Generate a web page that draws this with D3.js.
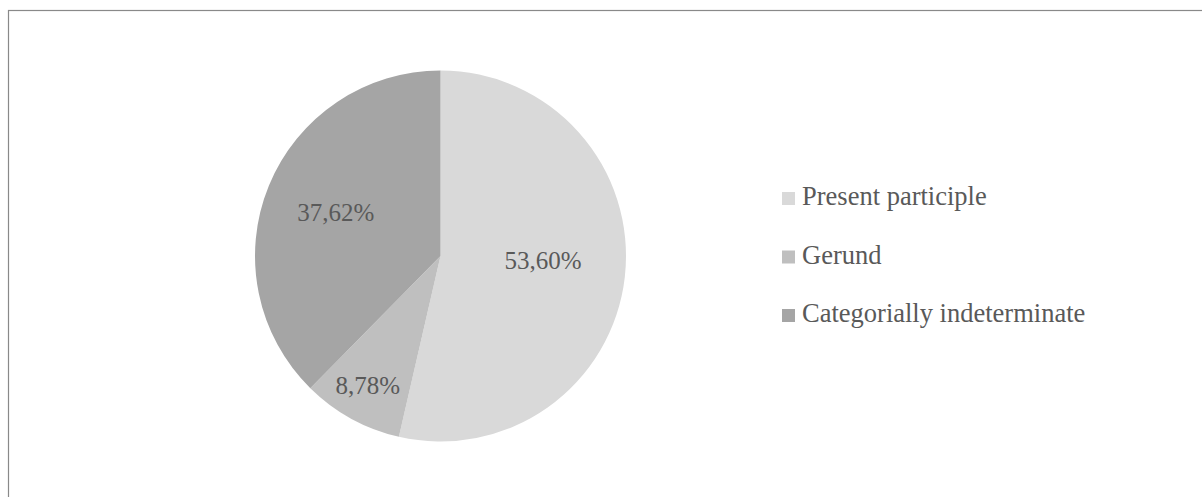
<!DOCTYPE html>
<html>
<head>
<meta charset="utf-8">
<script src="https://cdn.jsdelivr.net/npm/d3@7"></script>
<style>
  html, body { margin: 0; padding: 0; background: #fff; overflow: hidden; }
  svg { display: block; }
</style>
</head>
<body>
<svg id="chart" width="1202" height="497"></svg>
<script>
const categories = ["Present participle", "Gerund", "Categorially indeterminate"];
const values = [53.60, 8.78, 37.62];
const labels = ["53,60%", "8,78%", "37,62%"];
const colors = ["#d9d9d9", "#bfbfbf", "#a5a5a5"];

const svg = d3.select("#chart");
const font = "'Liberation Serif', 'Times New Roman', serif";
const textColor = "#595959";

// chart frame (only top/left edges visible in the window)
svg.append("rect")
  .attr("x", 8.5).attr("y", 10.5)
  .attr("width", 1300).attr("height", 600)
  .attr("fill", "#fff")
  .attr("stroke", "#898989").attr("stroke-width", 1.2);

const cx = 440.5, cy = 256, R = 185.5;
const data = categories.map((c, i) => ({ name: c, value: values[i], label: labels[i], color: colors[i] }));

const pie = d3.pie().value(d => d.value).sort(null);
const arcs = pie(data);
const arc = d3.arc().innerRadius(0).outerRadius(R);

const g = svg.append("g").attr("transform", `translate(${cx},${cy})`);
g.selectAll("path.slice")
  .data(arcs)
  .join("path")
  .attr("class", "slice")
  .attr("d", arc)
  .attr("fill", d => d.data.color);

// label placement (Excel best-fit): radius fraction and position within slice
const labelFrac = [0.553, 0.80, 0.61];
const labelAt = [0.48, 0.52, 0.5];
g.selectAll("text.lbl")
  .data(arcs)
  .join("text")
  .attr("class", "lbl")
  .attr("transform", (d, i) => {
    const r = R * labelFrac[i];
    const a = d.startAngle + (d.endAngle - d.startAngle) * labelAt[i];
    return `translate(${r * Math.sin(a)},${-r * Math.cos(a)})`;
  })
  .attr("text-anchor", "middle")
  .attr("dy", "0.33em")
  .attr("font-family", font)
  .attr("font-size", 25)
  .attr("fill", textColor)
  .text(d => d.data.label);

// legend
const legendY = d3.scalePoint().domain(categories).range([205, 322]);
const lg = svg.append("g");
const items = lg.selectAll("g.item").data(data).join("g").attr("class", "item")
  .attr("transform", d => `translate(782,${legendY(d.name)})`);
items.append("rect")
  .attr("x", 0).attr("y", -13)
  .attr("width", 13).attr("height", 13)
  .attr("fill", d => d.color);
items.append("text")
  .attr("x", 20).attr("y", 0)
  .attr("font-family", font)
  .attr("font-size", 26.5)
  .attr("fill", textColor)
  .text(d => d.name);
</script>
</body>
</html>
